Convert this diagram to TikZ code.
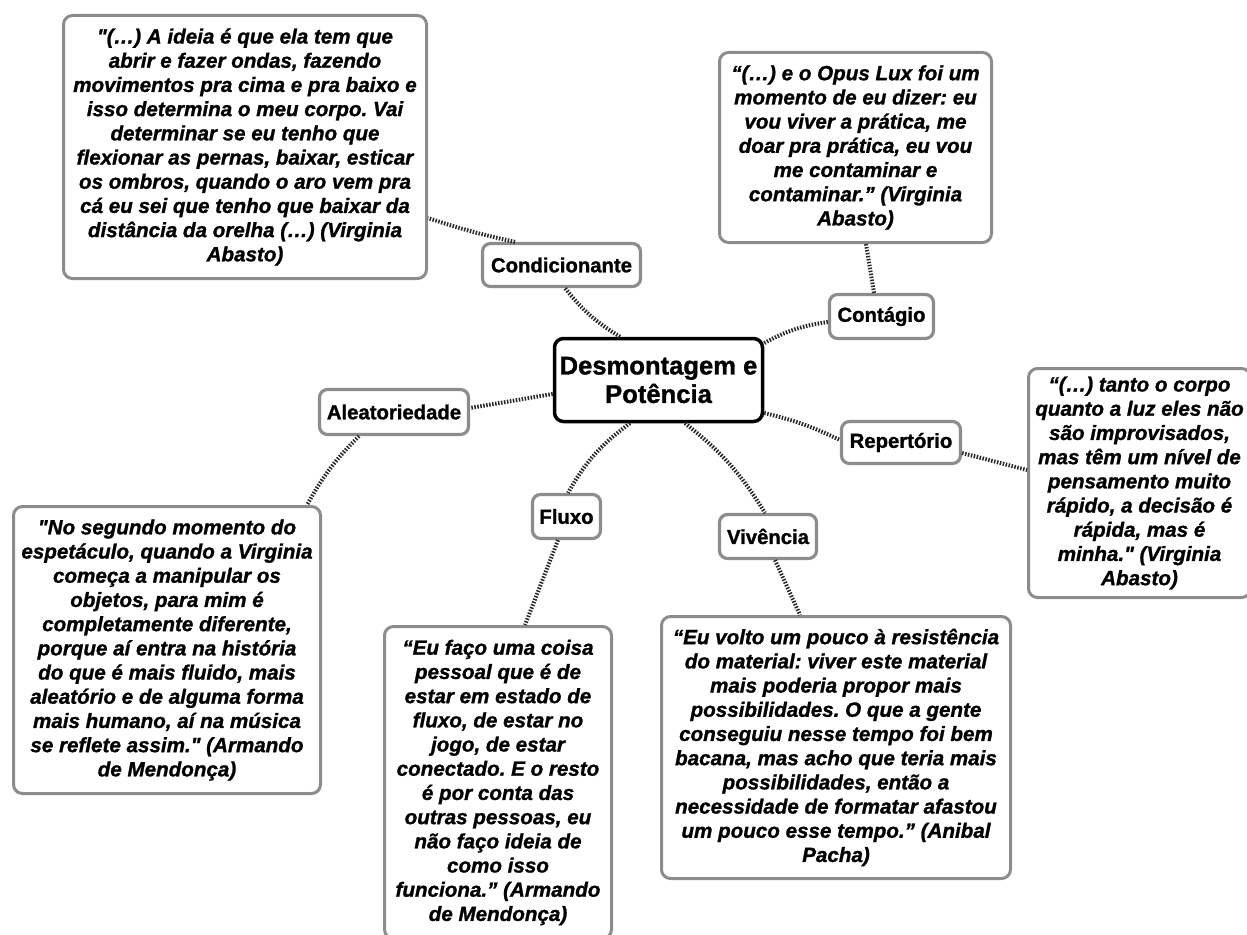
\documentclass[tikz,border=0pt]{standalone}
\usepackage{fontspec}
\setmainfont{Liberation Sans}[BoldFeatures={FakeBold=1.2},BoldItalicFeatures={FakeBold=1.2}]
\frenchspacing
\definecolor{boxgray}{RGB}{140,140,140}
\definecolor{linkgray}{RGB}{40,40,40}
\newcommand{\sq}{\textquotedbl}
\tikzset{
  quotebox/.style={draw=boxgray, line width=3pt, rounded corners=9pt, fill=white,
    align=center, inner sep=0pt,
    font=\fontsize{20.6}{24.2}\selectfont\bfseries\itshape},
  topicbox/.style={draw=boxgray, line width=3.2pt, rounded corners=8pt, fill=white,
    align=center, inner sep=0pt,
    font=\fontsize{20.3}{24}\selectfont\bfseries},
  hubbox/.style={draw=black, line width=3.5pt, rounded corners=9pt, fill=white,
    align=center, inner sep=0pt,
    font=\fontsize{25.6}{28.5}\selectfont\bfseries},
  link/.style={draw=linkgray, line width=4pt, dash pattern=on 1.5pt off 1.5pt},
}
\begin{document}
\begin{tikzpicture}[x=1pt, y=-1pt]
\useasboundingbox (0,0) rectangle (1247,934);
\clip (0,0) rectangle (1247,934);

% central theme
\node[hubbox, minimum width=208, minimum height=83] (hub) at (658.5,380)
  {Desmontagem e\\Potência};

% topics
\node[topicbox, minimum width=158, minimum height=43] (cond) at (561.5,265) {Condicionante};
\node[topicbox, minimum width=104, minimum height=44] (cont) at (881.5,316.5) {Contágio};
\node[topicbox, minimum width=119, minimum height=42] (rep)  at (901,442.5) {Repertório};
\node[topicbox, minimum width=149, minimum height=45] (alea) at (394,412) {Aleatoriedade};
\node[topicbox, minimum width=68,  minimum height=44] (flux) at (566.5,516.5) {Fluxo};
\node[topicbox, minimum width=97,  minimum height=44] (viv)  at (768,536.5) {Vivência};

% quotations
\node[quotebox, minimum width=363, minimum height=263] (q1) at (245,147)
  {\sq(…) A ideia é que ela tem que\\
   abrir e fazer ondas, fazendo\\
   movimentos pra cima e pra baixo e\\
   isso determina o meu corpo. Vai\\
   determinar se eu tenho que\\
   flexionar as pernas, baixar, esticar\\
   os ombros, quando o aro vem pra\\
   cá eu sei que tenho que baixar da\\
   distância da orelha (…) (Virginia\\
   Abasto)};

\node[quotebox, minimum width=272, minimum height=190] (q2) at (855.5,147.5)
  {“(…) e o Opus Lux foi um\\
   momento de eu dizer: eu\\
   vou viver a prática, me\\
   doar pra prática, eu vou\\
   me contaminar e\\
   contaminar.” (Virginia\\
   Abasto)};

\node[quotebox, minimum width=222, minimum height=229] (q3) at (1139.5,483)
  {“(…) tanto o corpo\\
   quanto a luz eles não\\
   são improvisados,\\
   mas têm um nível de\\
   pensamento muito\\
   rápido, a decisão é\\
   rápida, mas é\\
   minha.\sq{} (Virginia\\
   Abasto)};

\node[quotebox, minimum width=307, minimum height=287] (q4) at (167,650)
  {\sq No segundo momento do\\
   espetáculo, quando a Virginia\\
   começa a manipular os\\
   objetos, para mim é\\
   completamente diferente,\\
   porque aí entra na história\\
   do que é mais fluido, mais\\
   aleatório e de alguma forma\\
   mais humano, aí na música\\
   se reflete assim.\sq{} (Armando\\
   de Mendonça)};

\node[quotebox, minimum width=227, minimum height=312] (q5) at (498,782.5)
  {“Eu faço uma coisa\\
   pessoal que é de\\
   estar em estado de\\
   fluxo, de estar no\\
   jogo, de estar\\
   conectado. E o resto\\
   é por conta das\\
   outras pessoas, eu\\
   não faço ideia de\\
   como isso\\
   funciona.” (Armando\\
   de Mendonça)};

\node[quotebox, minimum width=349, minimum height=262] (q6) at (836,747.5)
  {“Eu volto um pouco à resistência\\
   do material: viver este material\\
   mais poderia propor mais\\
   possibilidades. O que a gente\\
   conseguiu nesse tempo foi bem\\
   bacana, mas acho que teria mais\\
   possibilidades, então a\\
   necessidade de formatar afastou\\
   um pouco esse tempo.” (Anibal\\
   Pacha)};

% dotted links from the centre to the topics
\draw[link] ([xshift=-38.5pt]hub.north) to[bend left=10] ([xshift=3.5pt]cond.south);
\draw[link] ([yshift=37pt]hub.east) to[bend left=10] ([yshift=-5.5pt]cont.west);
\draw[link] ([yshift=-33pt]hub.east) to[bend left=6] ([yshift=2.5pt]rep.west);
\draw[link] ([yshift=-14pt]hub.west) -- ([yshift=4pt]alea.east);
\draw[link] ([xshift=-28.5pt]hub.south) to[bend right=12] ([xshift=1.5pt]flux.north);
\draw[link] ([xshift=26.5pt]hub.south) to[bend left=10] ([xshift=-3pt]viv.north);

% dotted links from the topics to the quotations
\draw[link] ([xshift=-46.5pt]cond.north) to[bend left=3] ([yshift=-71pt]q1.east);
\draw[link] ([xshift=-7.5pt]cont.north) -- ([xshift=10.5pt]q2.south);
\draw[link] ([yshift=-10.5pt]rep.east) -- ([yshift=13pt]q3.west);
\draw[link] ([xshift=-35pt]alea.south) to[bend right=8] ([xshift=140pt]q4.north);
\draw[link] ([xshift=-8.5pt]flux.south) -- ([xshift=27pt]q5.north);
\draw[link] ([xshift=7pt]viv.south) -- ([xshift=-36pt]q6.north);
\end{tikzpicture}
\end{document}
